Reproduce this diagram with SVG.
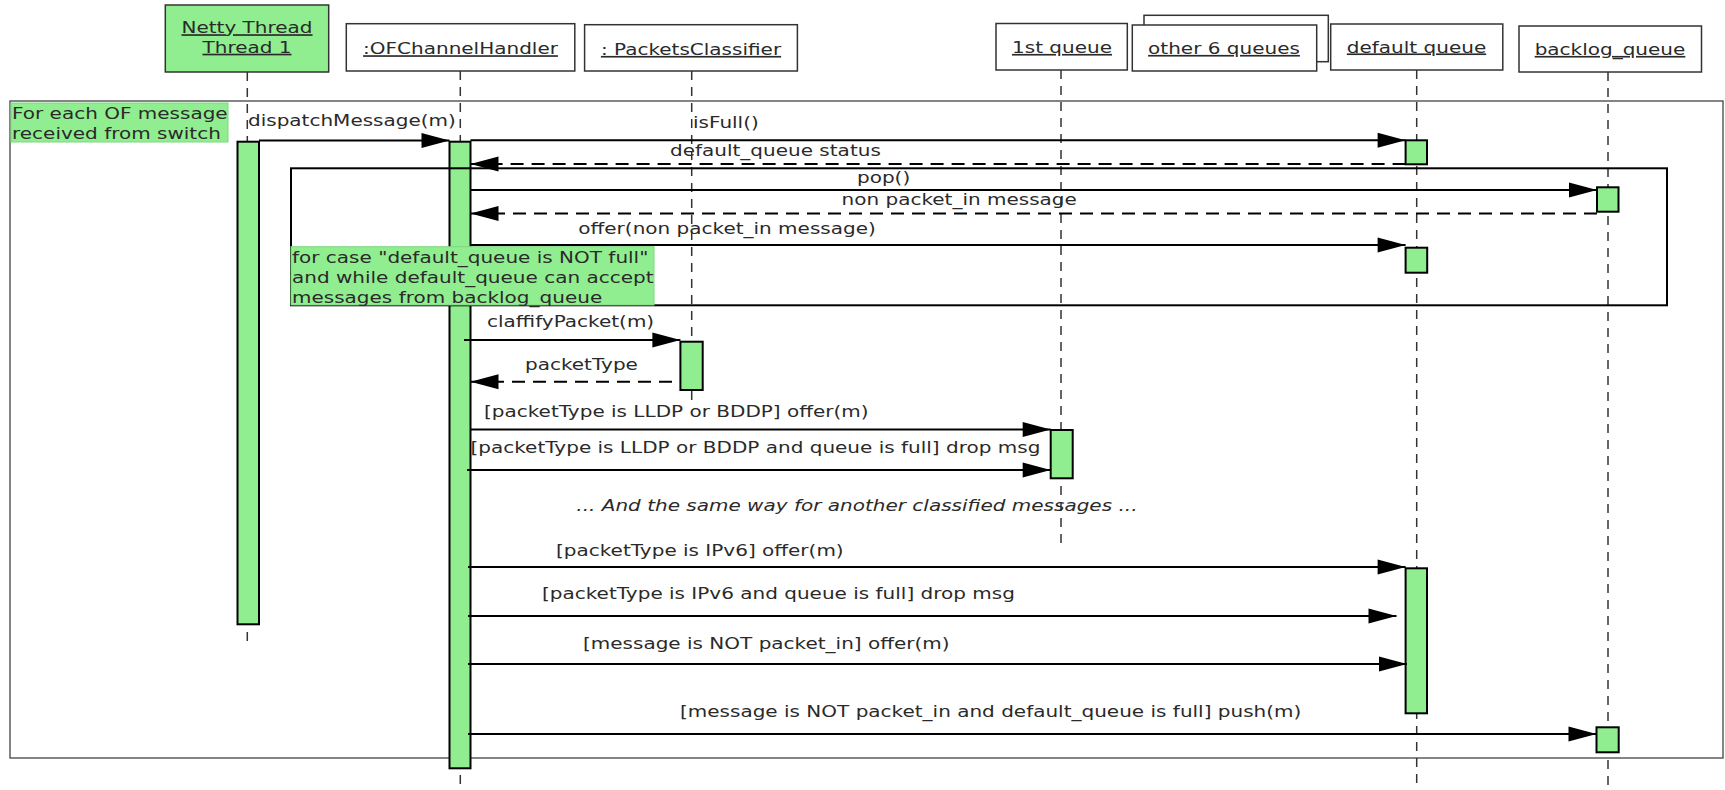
<svg xmlns="http://www.w3.org/2000/svg" width="1725" height="790" viewBox="0 0 1725 790">
<style>
  .t { font-family: "DejaVu Sans", "Liberation Sans", sans-serif; font-size: 16.6px; fill: #2a2a2a; }
  .h { text-anchor: middle; text-decoration: underline; }
  .it { font-style: italic; }
  .box { fill: #fff; stroke: #333; stroke-width: 1.5; }
  .gbox { fill: #90EE90; stroke: #333; stroke-width: 1.5; }
  .life { stroke: #333; stroke-width: 1.5; stroke-dasharray: 9 7; fill: none; }
  .act { fill: #90EE90; stroke: #000; stroke-width: 2; }
  .msg { stroke: #000; stroke-width: 2; fill: none; marker-end: url(#ah); }
  .ret { stroke: #000; stroke-width: 2; fill: none; stroke-dasharray: 13 8; marker-end: url(#ah); }
  .frame { fill: none; stroke: #444; stroke-width: 1.3; }
  .loop { fill: none; stroke: #000; stroke-width: 2; }
  .note { fill: #90EE90; stroke: #7fd87f; stroke-width: 1; }
</style>
<defs>
  <marker id="ah" markerUnits="userSpaceOnUse" markerWidth="30" markerHeight="16" refX="28" refY="7.5" orient="auto" overflow="visible">
    <path d="M0,0 L28,7.5 L0,15 Z" fill="#000"/>
  </marker>
</defs>

<g id="frames">
  <rect class="frame" x="10" y="101" width="1713" height="657"/>
  <rect class="note" x="11" y="103" width="217" height="39"/>
  <text class="t" transform="matrix(1.205 0 0 1 12 119.3)"><tspan x="0" y="0">For each OF message</tspan><tspan x="0" y="20">received from switch</tspan></text>
</g>

<g id="lifelines">
  <line class="life" x1="247.3" y1="72" x2="247.3" y2="648"/>
  <line class="life" x1="460.3" y1="71" x2="460.3" y2="790"/>
  <line class="life" x1="691.7" y1="71" x2="691.7" y2="400"/>
  <line class="life" x1="1061" y1="70" x2="1061" y2="545"/>
  <line class="life" x1="1416.7" y1="70" x2="1416.7" y2="790"/>
  <line class="life" x1="1608" y1="72" x2="1608" y2="790"/>
</g>

<g id="netty">
  <rect class="gbox" x="165.3" y="5" width="163.4" height="67"/>
  <text class="t h" transform="matrix(1.205 0 0 1 247 33.3)">Netty Thread</text>
  <text class="t h" transform="matrix(1.205 0 0 1 247 52.8)">Thread 1</text>
  <rect class="act" x="237.5" y="141.7" width="21.5" height="482.6"/>
</g>

<g id="ofchannelhandler">
  <rect class="box" x="346.3" y="23.7" width="228.5" height="47.3"/>
  <text class="t h" transform="matrix(1.205 0 0 1 460.5 54.3)">:OFChannelHandler</text>
  <rect class="act" x="449.5" y="141.7" width="21" height="626.6"/>
</g>

<g id="packetsclassifier">
  <rect class="box" x="584.6" y="24.7" width="212.8" height="46.3"/>
  <text class="t h" transform="matrix(1.205 0 0 1 691 55)">: PacketsClassifier</text>
  <rect class="act" x="680.4" y="341.7" width="22.3" height="48.3"/>
</g>

<g id="firstqueue">
  <rect class="box" x="996" y="23.5" width="131.3" height="46.5"/>
  <text class="t h" transform="matrix(1.205 0 0 1 1062 53)">1st queue</text>
  <rect class="act" x="1050.7" y="430" width="22" height="48.3"/>
</g>

<g id="other6queues">
  <rect class="box" x="1144" y="15.3" width="184.3" height="46.4"/>
  <rect class="box" x="1132.3" y="25" width="184.4" height="46"/>
  <text class="t h" transform="matrix(1.205 0 0 1 1224 54)">other 6 queues</text>
</g>

<g id="defaultqueue">
  <rect class="box" x="1330.7" y="24" width="172.1" height="46"/>
  <text class="t h" transform="matrix(1.205 0 0 1 1416.5 52.5)">default queue</text>
  <rect class="act" x="1405.6" y="140.3" width="21.4" height="24"/>
  <rect class="act" x="1405.6" y="247.7" width="21.6" height="25"/>
  <rect class="act" x="1405.6" y="568.3" width="21.4" height="145"/>
</g>

<g id="backlogqueue">
  <rect class="box" x="1519" y="26" width="182.5" height="46"/>
  <text class="t h" transform="matrix(1.205 0 0 1 1610 55)">backlog_queue</text>
  <rect class="act" x="1597" y="187.3" width="21.5" height="24.4"/>
  <rect class="act" x="1596.5" y="727.3" width="22.2" height="25"/>
</g>

<g id="loop">
  <rect class="loop" x="291" y="168.3" width="1376" height="137"/>
  <rect class="note" x="291" y="246.7" width="363" height="58.3"/>
  <text class="t" transform="matrix(1.205 0 0 1 292 262.6)"><tspan x="0" y="0">for case "default_queue is NOT full"</tspan><tspan x="0" y="20">and while default_queue can accept</tspan><tspan x="0" y="40">messages from backlog_queue</tspan></text>
</g>

<g id="connectors">
  <line class="msg" x1="259" y1="140.5" x2="449.5" y2="140.5"/>
  <line class="msg" x1="470.5" y1="140.3" x2="1405.6" y2="140.3"/>
  <line class="ret" x1="1405.6" y1="164" x2="470.5" y2="164"/>
  <line class="msg" x1="470.5" y1="190" x2="1597" y2="190"/>
  <line class="ret" x1="1597" y1="213.5" x2="470.5" y2="213.5"/>
  <line class="msg" x1="470.5" y1="245" x2="1405.6" y2="245"/>
  <line class="msg" x1="464" y1="340" x2="680.4" y2="340"/>
  <line class="ret" x1="672" y1="381.7" x2="470.5" y2="381.7"/>
  <line class="msg" x1="470.5" y1="429.5" x2="1050.7" y2="429.5"/>
  <line class="msg" x1="467" y1="470" x2="1050.7" y2="470"/>
  <line class="msg" x1="468" y1="567" x2="1405.6" y2="567"/>
  <line class="msg" x1="468" y1="616" x2="1396.5" y2="616"/>
  <line class="msg" x1="468" y1="664" x2="1407" y2="664"/>
  <line class="msg" x1="468" y1="734" x2="1596.5" y2="734"/>

  <text class="t" transform="matrix(1.205 0 0 1 248 126)">dispatchMessage(m)</text>
  <text class="t" transform="matrix(1.205 0 0 1 693 127.7)">isFull()</text>
  <text class="t" transform="matrix(1.205 0 0 1 670 155.7)">default_queue status</text>
  <text class="t" transform="matrix(1.205 0 0 1 857 183)">pop()</text>
  <text class="t" transform="matrix(1.205 0 0 1 841.5 204.5)">non packet_in message</text>
  <text class="t" transform="matrix(1.205 0 0 1 578.3 233.5)">offer(non packet_in message)</text>
  <text class="t" transform="matrix(1.205 0 0 1 487 326.5)">claffifyPacket(m)</text>
  <text class="t" transform="matrix(1.205 0 0 1 525 370)">packetType</text>
  <text class="t" transform="matrix(1.205 0 0 1 484 417)">[packetType is LLDP or BDDP] offer(m)</text>
  <text class="t" transform="matrix(1.205 0 0 1 470.5 453)">[packetType is LLDP or BDDP and queue is full] drop msg</text>
  <text class="t it" transform="matrix(1.205 0 0 1 576.3 511)">... And the same way for another classified messages ...</text>
  <text class="t" transform="matrix(1.205 0 0 1 556 556)">[packetType is IPv6] offer(m)</text>
  <text class="t" transform="matrix(1.205 0 0 1 542 598.5)">[packetType is IPv6 and queue is full] drop msg</text>
  <text class="t" transform="matrix(1.205 0 0 1 583 649)">[message is NOT packet_in] offer(m)</text>
  <text class="t" transform="matrix(1.205 0 0 1 680 717)">[message is NOT packet_in and default_queue is full] push(m)</text>
</g>
</svg>
